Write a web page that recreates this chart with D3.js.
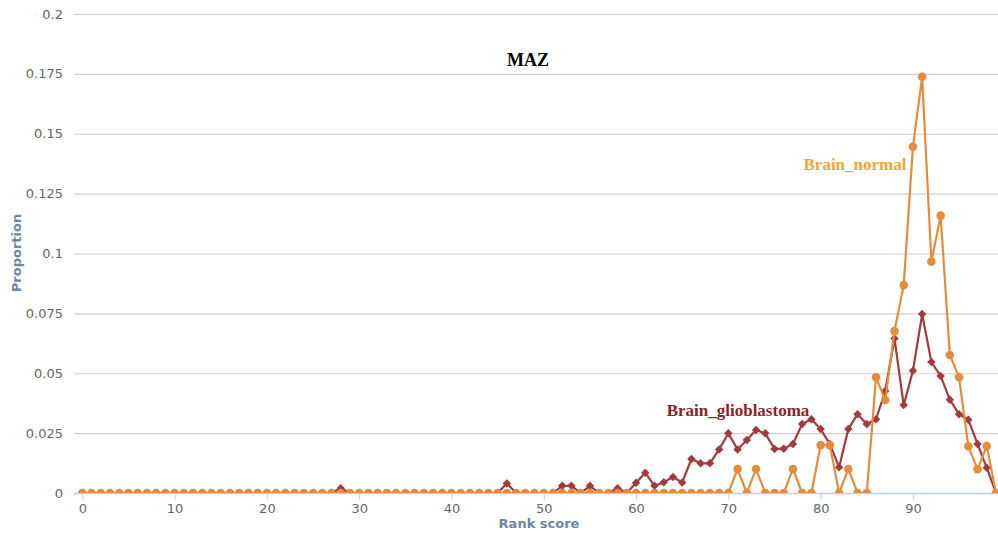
<!DOCTYPE html>
<html>
<head>
<meta charset="utf-8">
<script src="https://cdn.jsdelivr.net/npm/d3@7"></script>
<style>
  body { margin: 0; background: #fff; }
  svg { display: block; }
</style>
</head>
<body>
<div id="chart"></div>
<script>
// rank scores 0..99
var ranks = d3.range(0, 100);

// Brain_glioblastoma, non-zero values only (rank -> proportion)
var glioRanks = [28, 46, 52, 53, 55, 58, 60, 61, 62, 63, 64, 65, 66, 67, 68, 69,
  70, 71, 72, 73, 74, 75, 76, 77, 78, 79, 80, 81, 82, 83, 84, 85, 86, 87, 88, 89,
  90, 91, 92, 93, 94, 95, 96, 97, 98];
var glioValues = [0.002, 0.004, 0.003, 0.003, 0.003, 0.002, 0.0043, 0.0085, 0.003, 0.0045, 0.0067, 0.0044, 0.0142, 0.0124, 0.0124, 0.0182,
  0.0249, 0.0182, 0.0221, 0.0263, 0.0249, 0.0184, 0.0185, 0.0205, 0.0288, 0.0308, 0.0267, 0.0205, 0.0107, 0.0267, 0.0329, 0.0288, 0.0308, 0.0426, 0.0645, 0.0367,
  0.051, 0.0747, 0.0547, 0.0489, 0.0389, 0.0329, 0.0306, 0.0205, 0.0105];

// Brain_normal, non-zero values only
var normRanks = [71, 73, 77, 80, 81, 83, 86, 87, 88, 89, 90, 91, 92, 93, 94, 95, 96, 97, 98];
var normValues = [0.01, 0.01, 0.01, 0.02, 0.02, 0.01, 0.0483, 0.0388, 0.0676, 0.0868, 0.1446, 0.1738, 0.0966, 0.1158, 0.0576, 0.0483, 0.0195, 0.0099, 0.0196];

var yTicks = [0, 0.025, 0.05, 0.075, 0.1, 0.125, 0.15, 0.175, 0.2];
var xTicks = [0, 10, 20, 30, 40, 50, 60, 70, 80, 90];

function fullSeries(rs, vs) {
  return ranks.map(function(r) {
    var i = rs.indexOf(r);
    return {rank: r, value: i < 0 ? 0 : vs[i]};
  });
}
var glio = fullSeries(glioRanks, glioValues);
var norm = fullSeries(normRanks, normValues);

var width = 998, height = 533;
var plotLeft = 74, plotRight = 998, plotTop = 14, plotBottom = 493;

var svg = d3.select("#chart").append("svg")
  .attr("width", width)
  .attr("height", height);

var x = d3.scaleLinear().domain([0, 99]).range([82.3, 996]);
var y = d3.scaleLinear().domain([0, 0.2]).range([plotBottom, plotTop]);

svg.append("defs").append("clipPath").attr("id", "plotclip")
  .append("rect")
  .attr("x", plotLeft).attr("y", 0)
  .attr("width", plotRight - plotLeft).attr("height", plotBottom);

// grid lines
svg.append("g")
  .selectAll("line")
  .data(yTicks.filter(function(d) { return d > 0; }))
  .enter().append("line")
  .attr("x1", plotLeft).attr("x2", plotRight)
  .attr("y1", function(d) { return y(d) + 0.5; })
  .attr("y2", function(d) { return y(d) + 0.5; })
  .attr("stroke", "#d0d0d0")
  .attr("stroke-width", 1.2);

// y axis labels
svg.append("g")
  .selectAll("text")
  .data(yTicks)
  .enter().append("text")
  .attr("x", 63)
  .attr("y", function(d) { return y(d) + 4.5; })
  .attr("text-anchor", "end")
  .attr("font-family", "DejaVu Sans, sans-serif")
  .attr("font-size", 13)
  .attr("fill", "#666")
  .text(function(d) { return d; });

// x axis
var xAxis = svg.append("g")
  .attr("transform", "translate(0," + (plotBottom + 0.5) + ")")
  .call(d3.axisBottom(x).tickValues(xTicks).tickSize(6).tickPadding(4).tickFormat(d3.format("d")));
xAxis.select(".domain").remove();
xAxis.selectAll(".tick line").attr("stroke", "#c0d0e0");
xAxis.selectAll(".tick text")
  .attr("font-family", "DejaVu Sans, sans-serif")
  .attr("font-size", 13)
  .attr("fill", "#666");
svg.append("line")
  .attr("x1", plotLeft).attr("x2", plotRight)
  .attr("y1", plotBottom + 0.5).attr("y2", plotBottom + 0.5)
  .attr("stroke", "#c0d0e0")
  .attr("stroke-width", 1.5);

// axis titles
svg.append("text")
  .attr("x", 539).attr("y", 528)
  .attr("text-anchor", "middle")
  .attr("font-family", "DejaVu Sans, sans-serif")
  .attr("font-size", 13)
  .attr("font-weight", "bold")
  .attr("fill", "#6d87a5")
  .text("Rank score");
svg.append("text")
  .attr("transform", "translate(21,253) rotate(-90)")
  .attr("text-anchor", "middle")
  .attr("font-family", "DejaVu Sans, sans-serif")
  .attr("font-size", 13)
  .attr("font-weight", "bold")
  .attr("fill", "#6d87a5")
  .text("Proportion");

var plot = svg.append("g").attr("clip-path", "url(#plotclip)");

var line = d3.line()
  .x(function(d) { return x(d.rank); })
  .y(function(d) { return y(d.value); });

var glioColor = "#a23b3e", normColor = "#e38d3c";

// glioblastoma series
plot.append("path")
  .datum(glio)
  .attr("fill", "none")
  .attr("stroke", glioColor)
  .attr("stroke-width", 2.2)
  .attr("d", line);
plot.append("g")
  .selectAll("path")
  .data(glio)
  .enter().append("path")
  .attr("transform", function(d) { return "translate(" + x(d.rank) + "," + y(d.value) + ")"; })
  .attr("d", d3.symbol().type(d3.symbolDiamond2).size(46))
  .attr("fill", glioColor);

// normal series
plot.append("path")
  .datum(norm)
  .attr("fill", "none")
  .attr("stroke", normColor)
  .attr("stroke-width", 2.2)
  .attr("d", line);
plot.append("g")
  .selectAll("circle")
  .data(norm)
  .enter().append("circle")
  .attr("cx", function(d) { return x(d.rank); })
  .attr("cy", function(d) { return y(d.value); })
  .attr("r", 4.3)
  .attr("fill", normColor);

// annotations
svg.append("text")
  .attr("x", 528).attr("y", 66)
  .attr("text-anchor", "middle")
  .attr("font-family", "Liberation Serif, serif")
  .attr("font-size", 18)
  .attr("font-weight", "bold")
  .attr("fill", "#000")
  .text("MAZ");
svg.append("text")
  .attr("x", 855).attr("y", 170)
  .attr("text-anchor", "middle")
  .attr("font-family", "Liberation Serif, serif")
  .attr("font-size", 17)
  .attr("font-weight", "bold")
  .attr("fill", "#f0a834")
  .text("Brain_normal");
svg.append("text")
  .attr("x", 738).attr("y", 416)
  .attr("text-anchor", "middle")
  .attr("font-family", "Liberation Serif, serif")
  .attr("font-size", 17)
  .attr("font-weight", "bold")
  .attr("fill", "#8b2224")
  .text("Brain_glioblastoma");
</script>
</body>
</html>
